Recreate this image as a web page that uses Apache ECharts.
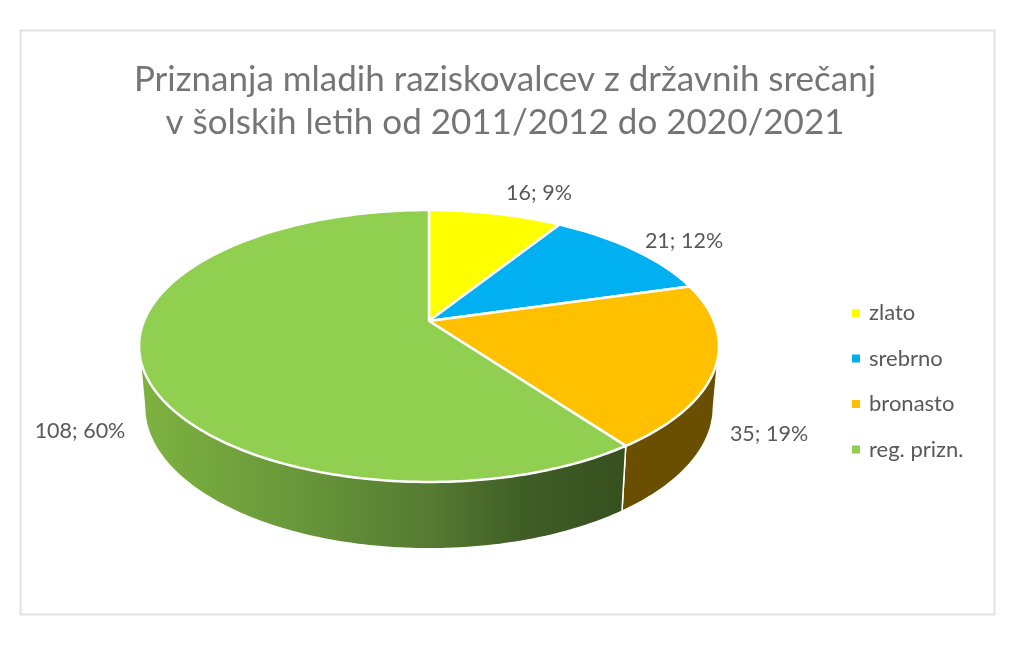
<!DOCTYPE html>
<html><head><meta charset="utf-8">
<style>html,body{margin:0;padding:0;background:#fff}#c{width:1024px;height:646px}</style>
<script src="https://cdn.jsdelivr.net/npm/echarts@6/dist/echarts.min.js"></script>
</head><body><div id="c"></div>
<script>
const titleText = 'Priznanja mladih raziskovalcev z državnih srečanj\nv šolskih letih od 2011/2012 do 2020/2021';
const categories = ['zlato', 'srebrno', 'bronasto', 'reg. prizn.'];
const values = [16, 21, 35, 108];

const colors = ['#ffff00', '#00b0f0', '#ffc000', '#90cf50'];
const labelCenters = [[539, 193], [684, 241], [769, 434], [80, 431]];
const FONT = 'Lato, Carlito, "Open Sans", sans-serif';
const total = values.reduce((a, b) => a + b, 0);
const TOP = { cx: 429, cy: 321, a: 285, b: 131.4, k: -0.1838 };
const BOTTOM = { cx: 429, cy: 381, a: 279.5, b: 137, k: -0.1838 };
const WALL_FROM = 101, WALL_TO = 259;

function project(p, deg) {
  const t = deg * Math.PI / 180, x = Math.sin(t), y = -Math.cos(t), d = 1 + p.k * y;
  return [p.cx + p.a * x / d, p.cy + p.b * y / d];
}
function arc(p, from, to) {
  const pts = [], n = Math.max(2, Math.ceil(Math.abs(to - from)));
  for (let i = 0; i <= n; i++) pts.push(project(p, from + (to - from) * i / n));
  return pts;
}
function wallFill(i) {
  if (i === 2) return '#6a4f00';
  return new echarts.graphic.LinearGradient(145, 0, 622, 0, [
    { offset: 0, color: '#7db240' },
    { offset: 0.325, color: '#68963a' },
    { offset: 0.6, color: '#557a31' },
    { offset: 0.807, color: '#3e5c25' },
    { offset: 1, color: '#37501f' }
  ], true);
}
function renderSlice(params, api) {
  const i = params.seriesIndex;
  const start = api.value(1) / total * 360, end = api.value(2) / total * 360;
  const children = [];
  const wa = Math.max(start, WALL_FROM), wb = Math.min(end, WALL_TO);
  if (wb > wa) {
    children.push({
      type: 'polygon', silent: true,
      shape: { points: arc(TOP, wa, wb).concat(arc(BOTTOM, wb, wa)) },
      style: { fill: wallFill(i), stroke: '#fff', lineWidth: 1.5 }
    });
  }
  children.push({
    type: 'polygon', silent: true,
    shape: { points: [[TOP.cx, TOP.cy]].concat(arc(TOP, start, end)) },
    style: { fill: colors[i], stroke: '#fff', lineWidth: 2.5, lineJoin: 'round' }
  });
  const v = api.value(0);
  children.push({
    type: 'text', silent: true, z2: 10,
    style: {
      x: labelCenters[i][0], y: labelCenters[i][1],
      text: v + '; ' + Math.round(v / total * 100) + '%',
      fill: '#595959', font: '21.5px ' + FONT, align: 'center', verticalAlign: 'middle'
    }
  });
  return { type: 'group', children };
}

let cum = 0;
const series = categories.map((name, i) => {
  const row = [values[i], cum, cum + values[i]];
  cum += values[i];
  return {
    type: 'custom', name, coordinateSystem: 'none', renderItem: renderSlice,
    itemStyle: { color: colors[i] }, data: [row], silent: true, animation: false
  };
});

const chart = echarts.init(document.getElementById('c'), null, { renderer: 'canvas' });
chart.setOption({
  backgroundColor: '#fff', animation: false,
  title: {
    text: titleText, left: 500, top: 53, textAlign: 'center',
    textStyle: { color: '#757575', fontFamily: FONT, fontWeight: 'normal', fontSize: 35, lineHeight: 43 }
  },
  legend: {
    orient: 'vertical', left: 852, top: 301, icon: 'rect', itemWidth: 8, itemHeight: 8,
    itemGap: 21.5, selectedMode: false, padding: 0, data: categories,
    textStyle: { color: '#595959', fontFamily: FONT, fontSize: 22, lineHeight: 24, padding: [0, 0, 0, 4] }
  },
  graphic: [{
    type: 'rect', silent: true, z: -1,
    shape: { x: 20.5, y: 30.5, width: 974, height: 584 },
    style: { fill: '#fff', stroke: '#e2e2e2', lineWidth: 2 }
  }],
  series
});
</script></body></html>
